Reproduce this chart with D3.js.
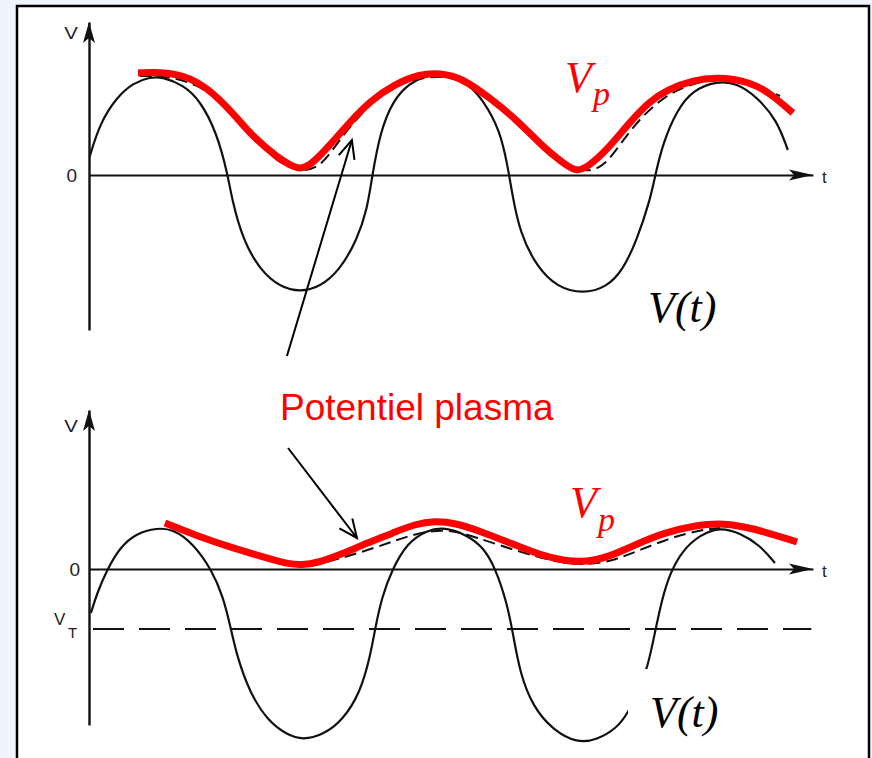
<!DOCTYPE html>
<html>
<head>
<meta charset="utf-8">
<script src="https://cdn.jsdelivr.net/npm/d3@7"></script>
<style>
  html, body { margin: 0; padding: 0; background: #eff4fd; }
  svg { display: block; }
</style>
</head>
<body>
<svg id="chart" width="872" height="758"></svg>
<script>
// ---- Upper panel: sinusoidal RF voltage V(t) and plasma potential Vp ----
// [t, V] pairs (t: arbitrary time units, period ~10; V: units of the RF amplitude)
const topVt = [
  [0.02, 0.18], [0.39, 0.52], [1.0, 0.78], [1.57, 0.92], [2.18, 0.98], [2.64, 0.98],
  [3.36, 0.90], [3.96, 0.75], [4.57, 0.42], [4.96, 0.0], [5.11, -0.25], [5.5, -0.65],
  [6.11, -0.95], [6.82, -1.12], [7.54, -1.17], [8.25, -1.12], [8.96, -0.95], [9.57, -0.65],
  [9.93, -0.35], [10.11, -0.02], [10.39, 0.42], [10.86, 0.75], [11.46, 0.92], [12.0, 0.99],
  [12.54, 1.01], [13.07, 0.99], [13.61, 0.89], [14.07, 0.75], [14.68, 0.45], [14.96, 0.08],
  [15.11, -0.18], [15.39, -0.58], [16.0, -0.92], [16.71, -1.12], [17.64, -1.19], [18.5, -1.12],
  [19.07, -0.95], [19.57, -0.65], [20.04, -0.25], [20.21, -0.02], [20.5, 0.32], [21.0, 0.65],
  [21.57, 0.85], [22.43, 0.94], [23.14, 0.92], [23.86, 0.78], [24.57, 0.55], [24.96, 0.25]
];
const topVpDashed = [
  [1.82, 0.99], [2.71, 0.99], [3.79, 0.92], [4.86, 0.72], [5.75, 0.45], [6.46, 0.20],
  [7.0, 0.09], [7.64, 0.03], [8.32, 0.09], [8.96, 0.36], [9.68, 0.60], [10.57, 0.85],
  [11.46, 0.95], [12.54, 1.0], [13.61, 0.93], [14.68, 0.71], [15.57, 0.45], [16.46, 0.20],
  [17.18, 0.07], [17.89, 0.03], [18.43, 0.10], [18.96, 0.30], [19.68, 0.57], [20.57, 0.79],
  [21.46, 0.91], [22.54, 0.97], [23.61, 0.93], [24.68, 0.79]
];
const topVp = [
  [1.75, 1.02], [2.54, 1.03], [3.36, 1.0], [4.21, 0.88], [5.14, 0.62], [5.86, 0.38],
  [6.71, 0.18], [7.29, 0.08], [7.61, 0.06], [8.0, 0.12], [8.61, 0.30], [9.32, 0.53],
  [10.04, 0.74], [10.93, 0.91], [11.82, 1.01], [12.54, 1.02], [13.32, 0.97], [14.32, 0.77],
  [15.29, 0.55], [16.21, 0.28], [16.93, 0.12], [17.39, 0.03], [17.82, 0.08], [18.5, 0.25],
  [19.32, 0.53], [20.04, 0.74], [20.64, 0.85], [21.57, 0.95], [22.54, 0.98], [23.61, 0.93],
  [24.32, 0.82], [25.14, 0.62]
];

// ---- Lower panel: same excitation shifted by the DC self-bias V_T ----
const vT = -0.6;
const botVt = [
  [0.07, -0.44], [0.29, -0.24], [0.64, -0.01], [1.11, 0.22], [1.71, 0.36], [2.43, 0.41],
  [3.0, 0.40], [3.71, 0.26], [4.39, -0.01], [4.79, -0.28], [5.04, -0.56], [5.29, -0.88],
  [5.75, -1.24], [6.36, -1.51], [7.07, -1.66], [7.64, -1.71], [8.36, -1.66], [9.07, -1.51],
  [9.68, -1.24], [10.04, -0.88], [10.21, -0.61], [10.46, -0.28], [10.82, -0.01], [11.36, 0.26],
  [12.07, 0.39], [12.71, 0.42], [13.5, 0.34], [14.07, 0.22], [14.5, 0.02], [14.93, -0.34],
  [15.14, -0.64], [15.39, -1.04], [15.86, -1.38], [16.57, -1.61], [17.43, -1.74], [18.14, -1.71],
  [18.86, -1.59], [19.25, -1.44], [19.61, -1.23], [19.96, -0.98], [20.21, -0.64], [20.46, -0.31],
  [20.75, -0.04], [21.21, 0.19], [21.82, 0.34], [22.54, 0.42], [23.25, 0.36], [23.96, 0.24],
  [24.5, 0.06]
];
const botVpDashed = [
  [7.89, 0.03], [8.79, 0.09], [10.32, 0.22], [11.46, 0.34], [12.71, 0.41], [13.79, 0.32],
  [15.39, 0.17], [16.82, 0.06], [17.89, 0.04], [18.79, 0.09], [19.68, 0.19], [20.75, 0.31],
  [21.82, 0.39], [22.54, 0.41]
];
const botVp = [
  [2.71, 0.46], [3.96, 0.32], [5.14, 0.21], [6.36, 0.11], [7.11, 0.05], [7.61, 0.04],
  [8.14, 0.06], [8.96, 0.14], [9.93, 0.26], [10.86, 0.36], [11.64, 0.45], [12.36, 0.48],
  [13.07, 0.46], [13.96, 0.38], [15.04, 0.26], [16.11, 0.14], [17.0, 0.08], [17.79, 0.07],
  [18.54, 0.12], [19.5, 0.24], [20.5, 0.36], [21.71, 0.44], [22.64, 0.46], [23.71, 0.41],
  [25.29, 0.27]
];

// annotation arrows: [tail, tip] in each panel's data coordinates
const topArrow = [[7.07, -1.81], [9.39, 0.35]];
const botArrow = [[7.11, 1.21], [9.57, 0.31]];

const svg = d3.select("#chart");
const serif = "'Liberation Serif', 'Times New Roman', serif";
const sans = "'Liberation Sans', Arial, sans-serif";
const red = "#ff0000";
const ink = "#111";

// framed white card
svg.append("rect")
  .attr("x", 17).attr("y", 6).attr("width", 852).attr("height", 800)
  .attr("fill", "#fff").attr("stroke", "#000").attr("stroke-width", 2.5);

const x = d3.scaleLinear().domain([0, 25.86]).range([89, 813]);
const yTop = d3.scaleLinear().domain([-1.55, 1.53]).range([330, 22]);
const yBot = d3.scaleLinear().domain([-1.56, 1.59]).range([725, 410]);

function lineFor(y) {
  return d3.line()
    .x(d => x(d[0]))
    .y(d => y(d[1]))
    .curve(d3.curveBasis);
}

function drawAxes(g, y, zeroPad, vLabelY, tLabelDy) {
  // horizontal time axis through V = 0
  const xa = g.append("g")
    .attr("transform", `translate(0,${y(0)})`)
    .call(d3.axisBottom(x).tickValues([]).tickSizeOuter(0));
  xa.select(".domain").attr("stroke", ink).attr("stroke-width", 2.2);
  const xe = x.range()[1];
  g.append("path")
    .attr("d", `M${xe},${y(0)} L${xe - 24},${y(0) - 5.5} L${xe - 19},${y(0)} L${xe - 24},${y(0) + 5.5} Z`)
    .attr("fill", ink);
  g.append("text")
    .attr("x", xe + 9).attr("y", y(0) + tLabelDy)
    .attr("font-family", sans).attr("font-size", 17).attr("fill", "#222")
    .text("t");

  // vertical voltage axis with the 0 tick label
  const ya = g.append("g")
    .attr("transform", `translate(${x(0)},0)`)
    .call(d3.axisLeft(y).tickValues([0]).tickSize(0).tickPadding(zeroPad).tickSizeOuter(0)
      .tickFormat(d3.format("d")));
  ya.select(".domain").attr("stroke", ink).attr("stroke-width", 2.4);
  ya.selectAll(".tick text")
    .attr("font-family", sans).attr("font-size", 19).attr("fill", "#222");
  const yt = y.range()[1];
  g.append("path")
    .attr("d", `M${x(0)},${yt} L${x(0) - 6},${yt + 21} L${x(0)},${yt + 16} L${x(0) + 6},${yt + 21} Z`)
    .attr("fill", ink);
  g.append("text")
    .attr("x", x(0) - 18).attr("y", vLabelY)
    .attr("text-anchor", "middle")
    .attr("font-family", sans).attr("font-size", 17).attr("fill", "#222")
    .attr("transform", `translate(${x(0) - 18},${vLabelY}) scale(1.2,1) translate(${-(x(0) - 18)},${-vLabelY})`)
    .text("V");
}

function drawCurves(g, y, vt, dashed, vp) {
  const line = lineFor(y);
  g.append("path").datum(vt)
    .attr("d", line).attr("fill", "none")
    .attr("stroke", ink).attr("stroke-width", 2.2);
  g.append("path").datum(dashed)
    .attr("d", line).attr("fill", "none")
    .attr("stroke", ink).attr("stroke-width", 2).attr("stroke-dasharray", "12,6");
  g.append("path").datum(vp)
    .attr("d", line).attr("fill", "none")
    .attr("stroke", red).attr("stroke-width", 7).attr("stroke-linejoin", "round");
}

function drawVpLabel(g, lx, lyV, lyP) {
  const t = g.append("text").attr("fill", red).attr("font-family", serif).attr("font-style", "italic");
  t.append("tspan").attr("x", lx).attr("y", lyV).attr("font-size", 44).text("V");
  t.append("tspan").attr("x", lx + 28).attr("y", lyP).attr("font-size", 34).text("p");
}

function drawVtLabel(g, bx, by, bw, bh, lx, ly) {
  g.append("rect").attr("x", bx).attr("y", by).attr("width", bw).attr("height", bh).attr("fill", "#fff");
  g.append("text")
    .attr("x", lx).attr("y", ly)
    .attr("font-family", serif).attr("font-style", "italic").attr("font-size", 44).attr("fill", "#000")
    .text("V(t)");
}

function drawArrow(g, y, pts) {
  const [t0, t1] = pts;
  const x0 = x(t0[0]), y0 = y(t0[1]), x1 = x(t1[0]), y1 = y(t1[1]);
  const a = Math.atan2(y1 - y0, x1 - x0);
  const L = 20, w = 0.42;
  g.append("line")
    .attr("x1", x0).attr("y1", y0).attr("x2", x1).attr("y2", y1)
    .attr("stroke", "#000").attr("stroke-width", 2);
  g.append("path")
    .attr("d", `M${x1 - L * Math.cos(a - w)},${y1 - L * Math.sin(a - w)} L${x1},${y1} L${x1 - L * Math.cos(a + w)},${y1 - L * Math.sin(a + w)}`)
    .attr("fill", "none").attr("stroke", "#000").attr("stroke-width", 2);
}

// upper panel
const gTop = svg.append("g");
drawAxes(gTop, yTop, 12, 39, 8);
drawCurves(gTop, yTop, topVt, topVpDashed, topVp);
drawVtLabel(gTop, 626, 264, 110, 72, 648, 322);
drawVpLabel(gTop, 565, 92, 105);

// lower panel
const gBot = svg.append("g");
gBot.append("line")
  .attr("x1", x(0)).attr("x2", x(25.8))
  .attr("y1", yBot(vT)).attr("y2", yBot(vT))
  .attr("stroke", ink).attr("stroke-width", 2.2).attr("stroke-dasharray", "31,15")
  .attr("stroke-dashoffset", -4);
drawAxes(gBot, yBot, 9, 432, 8);
const vtText = gBot.append("text").attr("font-family", sans).attr("fill", "#222");
vtText.append("tspan").attr("x", 54).attr("y", yBot(vT) - 4).attr("font-size", 17).text("V");
vtText.append("tspan").attr("x", 68).attr("y", yBot(vT) + 9).attr("font-size", 15).text("T");
drawCurves(gBot, yBot, botVt, botVpDashed, botVp);
drawVtLabel(gBot, 628, 669, 120, 100, 650, 727);
drawVpLabel(gBot, 570, 517, 531);

// shared annotation
svg.append("text")
  .attr("x", 280).attr("y", 420)
  .attr("font-family", sans).attr("font-size", 37).attr("fill", red)
  .text("Potentiel plasma");
drawArrow(gTop, yTop, topArrow);
drawArrow(gBot, yBot, botArrow);
</script>
</body>
</html>
